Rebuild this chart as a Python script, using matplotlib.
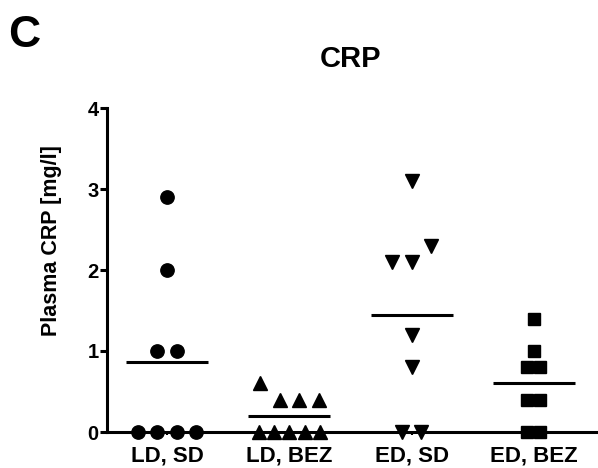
import matplotlib
matplotlib.use("Agg")
import matplotlib.pyplot as plt
import numpy as np

plt.rcParams['font.family'] = ['Liberation Sans', 'DejaVu Sans']

categories = ["LD, SD", "LD, BEZ", "ED, SD", "ED, BEZ"]
ld_sd = [2.9, 2.0, 1.0, 1.0, 0.0, 0.0, 0.0, 0.0]
ld_bez = [0.6, 0.4, 0.4, 0.4, 0.0, 0.0, 0.0, 0.0, 0.0]
ed_sd = [3.1, 2.1, 2.1, 2.3, 1.2, 0.8, 0.0, 0.0]
ed_bez = [1.4, 1.0, 0.8, 0.8, 0.4, 0.4, 0.0, 0.0]
series = [ld_sd, ld_bez, ed_sd, ed_bez]
yticks = [0, 1, 2, 3, 4]

# styles: marker, marker size (pt), spacing (px), cluster threshold (data units)
styles = [
    ("o", 9.6, 19.6, 0.15),
    ("^", 10.0, 19.5, 0.25),
    ("v", 10.0, 19.3, 0.25),
    ("s", 8.4, 13.0, 0.15),
]

W, H = 598, 468
dpi = 100
fig = plt.figure(figsize=(W / dpi, H / dpi), dpi=dpi)
ax_l, ax_r, ax_b, ax_t = 107, 598, 432, 108
ax = fig.add_axes([ax_l / W, 1 - ax_b / H, (ax_r - ax_l) / W, (ax_b - ax_t) / H])

px_per_unit = 122.3
x_left = 1 - (167 - ax_l) / px_per_unit
x_right = 4 + (ax_r - 534) / px_per_unit
ax.set_xlim(x_left, x_right)
ax.set_ylim(0, 4)

max_width_px = 61.0

for i, (vals, (mk, ms, sp, thr)) in enumerate(zip(series, styles)):
    xc = i + 1
    clusters = []
    for v in vals:
        for c in clusters:
            if abs(v - c[0]) <= thr:
                c.append(v)
                break
        else:
            clusters.append([v])
    xs, ys = [], []
    for c in clusters:
        n = len(c)
        step = sp
        if n > 1 and (n - 1) * step > max_width_px:
            step = max_width_px / (n - 1)
        offs = (np.arange(n) - (n - 1) / 2) * step / px_per_unit
        xs.extend(xc + offs)
        ys.extend(c)
    ax.plot(xs, ys, linestyle="none", marker=mk, markersize=ms,
            color="black", clip_on=False, zorder=3)
    m = np.mean(vals)
    hw = 41 / px_per_unit
    ax.plot([xc - hw, xc + hw], [m, m], color="black", lw=2.2,
            solid_capstyle="butt", clip_on=False, zorder=2)

for s in ["top", "right"]:
    ax.spines[s].set_visible(False)
for s in ["left", "bottom"]:
    ax.spines[s].set_linewidth(2.2)

ax.set_yticks(yticks)
ax.set_yticklabels([str(t) for t in yticks], fontsize=14.5, fontweight="bold")
ax.tick_params(axis="y", length=5, width=2.2, pad=1)
ax.set_xticks([1, 2, 3, 4])
ax.set_xticklabels(categories, fontsize=16, fontweight="bold")
ax.tick_params(axis="x", length=2.5, width=1.5, pad=7)

fig.text(52 / W, 1 - 241 / H, "Plasma CRP [mg/l]", rotation=90, ha="center",
         va="center", fontsize=15.5, fontweight="bold")
fig.text(350 / W, 1 - 67 / H, "CRP", ha="center", va="baseline",
         fontsize=21, fontweight="bold")
fig.text(8 / W, 1 - 47 / H, "C", ha="left", va="baseline",
         fontsize=32, fontweight="bold")

fig.savefig("out.png", dpi=dpi)
